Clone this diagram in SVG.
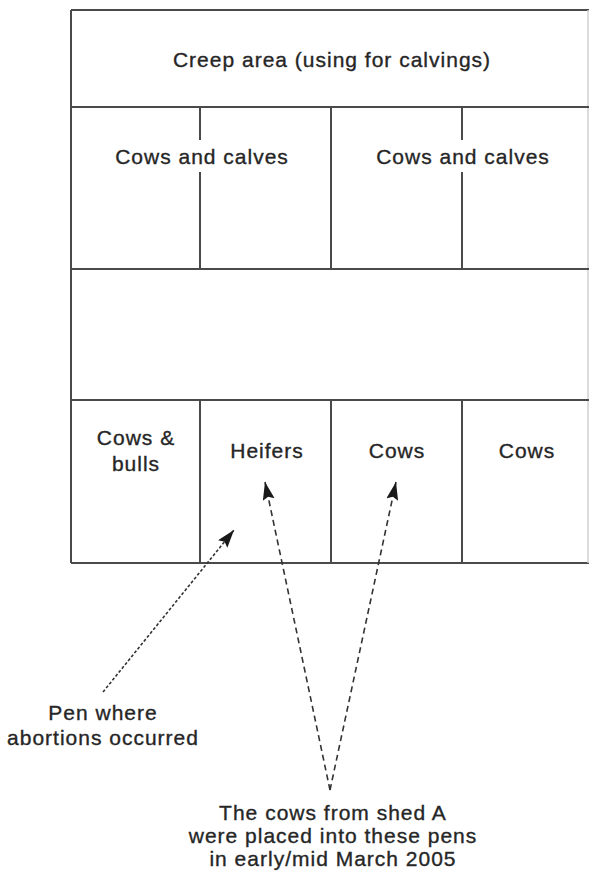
<svg xmlns="http://www.w3.org/2000/svg" width="589" height="876" viewBox="0 0 589 876">
<defs>
<style>
.wall{stroke:#4a4a4a;stroke-width:2;fill:none}
.lbl{font-family:"Liberation Sans",Arial,sans-serif;font-size:21px;letter-spacing:1px;fill:#262626;stroke:#262626;stroke-width:0.35;text-anchor:middle}
.fine{stroke:#333;stroke-width:1.6;fill:none;stroke-dasharray:3 2}
.dash{stroke:#333;stroke-width:1.6;fill:none;stroke-dasharray:6 4}
</style>
<marker id="ah" markerUnits="userSpaceOnUse" markerWidth="20" markerHeight="14" refX="18" refY="6" orient="auto">
<path d="M0,0 L18,6 L0,12 L3,6 z" fill="#1a1a1a"/>
</marker>
</defs>
<rect width="589" height="876" fill="#fff"/>
<g id="frame">
<line class="wall" x1="71" y1="10" x2="589" y2="10"/>
<line class="wall" x1="71" y1="10" x2="71" y2="563"/>
<line class="wall" x1="71" y1="563" x2="589" y2="563"/>
<line x1="588" y1="10" x2="588" y2="563" stroke="#d0d0d0" stroke-width="1.5"/>
<line class="wall" x1="71" y1="107" x2="589" y2="107"/>
<line class="wall" x1="71" y1="269" x2="589" y2="269"/>
<line class="wall" x1="71" y1="400" x2="589" y2="400"/>
</g>
<g id="creep-area">
<text class="lbl" x="332" y="67">Creep area (using for calvings)</text>
</g>
<g id="cows-calves-1">
<line class="wall" x1="200" y1="107" x2="200" y2="140"/>
<line class="wall" x1="200" y1="172" x2="200" y2="269"/>
<text class="lbl" x="202" y="164">Cows and calves</text>
</g>
<g id="cows-calves-2">
<line class="wall" x1="331" y1="107" x2="331" y2="269"/>
<line class="wall" x1="462" y1="107" x2="462" y2="140"/>
<line class="wall" x1="462" y1="172" x2="462" y2="269"/>
<text class="lbl" x="463" y="164">Cows and calves</text>
</g>
<g id="pen-cows-bulls">
<text class="lbl" x="136" y="445">Cows &amp;</text>
<text class="lbl" x="136" y="471">bulls</text>
</g>
<g id="pen-heifers">
<line class="wall" x1="200" y1="400" x2="200" y2="563"/>
<text class="lbl" x="267" y="458">Heifers</text>
</g>
<g id="pen-cows-1">
<line class="wall" x1="331" y1="400" x2="331" y2="563"/>
<text class="lbl" x="397" y="458">Cows</text>
</g>
<g id="pen-cows-2">
<line class="wall" x1="462" y1="400" x2="462" y2="563"/>
<text class="lbl" x="527" y="458">Cows</text>
</g>
<g id="note-abortions">
<text class="lbl" x="103" y="720">Pen where</text>
<text class="lbl" x="103" y="745">abortions occurred</text>
</g>
<g id="note-shed-a">
<text class="lbl" x="333" y="820">The cows from shed A</text>
<text class="lbl" x="333" y="843">were placed into these pens</text>
<text class="lbl" x="333" y="866">in early/mid March 2005</text>
</g>
<g id="connectors">
<line class="fine" x1="103" y1="692" x2="234" y2="530" marker-end="url(#ah)"/>
<line class="dash" x1="330" y1="790" x2="265" y2="482" marker-end="url(#ah)"/>
<line class="dash" x1="330" y1="790" x2="396" y2="482" marker-end="url(#ah)"/>
</g>
</svg>
